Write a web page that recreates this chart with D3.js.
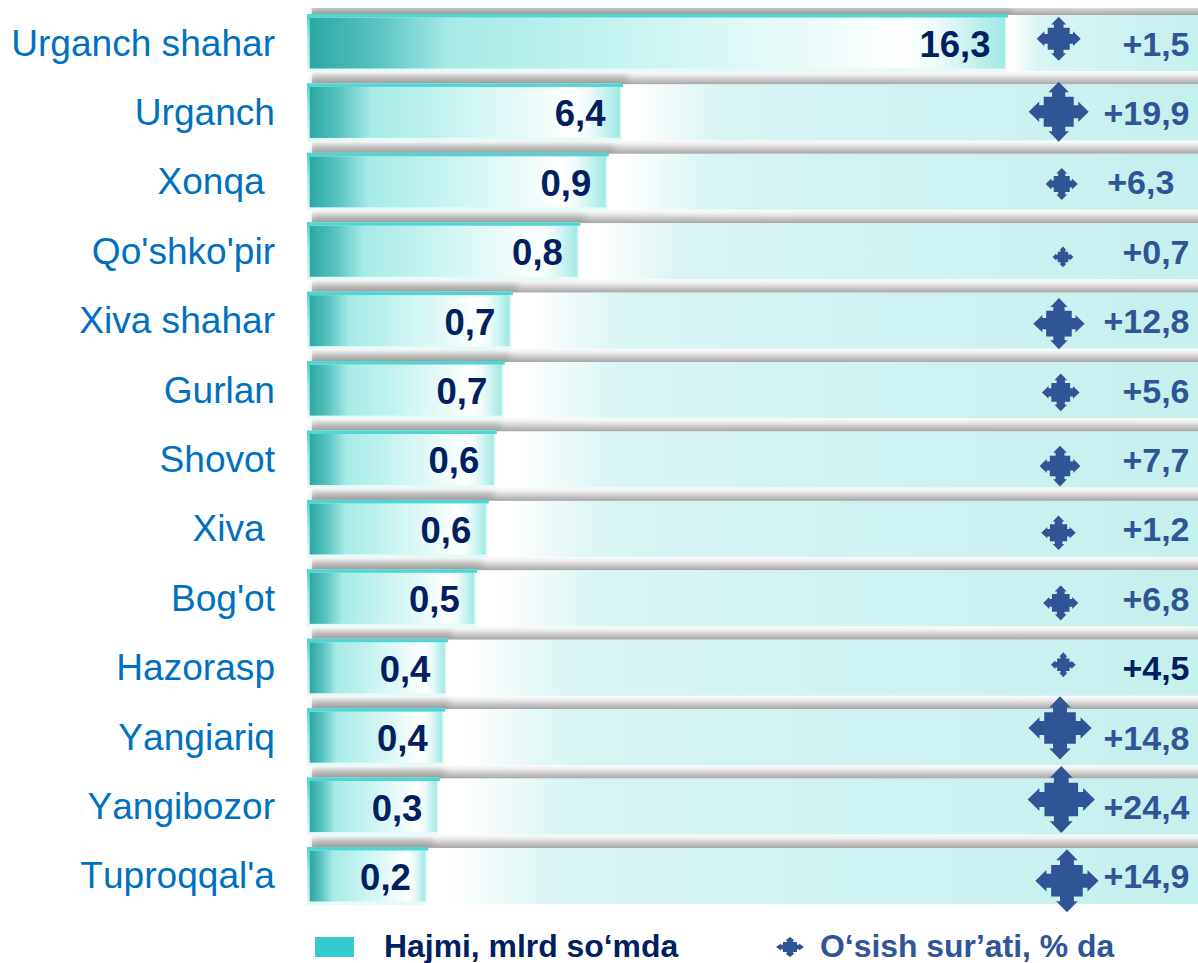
<!DOCTYPE html>
<html>
<head>
<meta charset="utf-8">
<script src="https://cdn.jsdelivr.net/npm/d3@7"></script>
<style>
  html, body { margin: 0; padding: 0; background: #fff; }
  svg { display: block; }
  text { font-family: "Liberation Sans", Arial, sans-serif; white-space: pre; font-kerning: none; }
</style>
</head>
<body>
<svg id="chart" width="1198" height="963"></svg>
<script>
// Data
var categories = ["Urganch shahar", "Urganch", "Xonqa ", "Qo'shko'pir", "Xiva shahar", "Gurlan", "Shovot", "Xiva ", "Bog'ot", "Hazorasp", "Yangiariq", "Yangibozor", "Tuproqqal'a"];
var volumeLabels = ["16,3", "6,4", "0,9", "0,8", "0,7", "0,7", "0,6", "0,6", "0,5", "0,4", "0,4", "0,3", "0,2"];
var growthLabels = ["+1,5", "+19,9", "+6,3\u00A0\u2006", "+0,7", "+12,8", "+5,6", "+7,7", "+1,2", "+6,8", "+4,5", "+14,8", "+24,4", "+14,9"];
// bars in the picture are not proportional to their printed labels, so lengths are kept separately (% of track)
var barLengths = [78.4, 35.1, 33.5, 30.3, 22.7, 21.8, 20.9, 20.0, 18.7, 15.4, 15.1, 14.5, 13.2];
// the arrow markers: where they sit (% of track, row number) and how big they are
var markerTrack = [84.33, 84.33, 84.67, 84.81, 84.36, 84.56, 84.48, 84.31, 84.56, 84.85, 84.48, 84.62, 85.26];
var markerRow = [-0.06, 0.99, 2.03, 3.08, 4.04, 5.03, 6.09, 7.05, 8.06, 8.95, 9.86, 10.89, 12.06];
var markerSize = [55, 75, 40, 26, 64, 47, 51, 43, 44, 31, 79, 84, 79];
var legendLabels = ["Hajmi, mlrd so\u2018mda", "O\u2018sish sur\u2019ati, % da"];

var svg = d3.select("#chart");
var width = 1198;

var navy = "#002060";
var blue = "#2F5597";
var catBlue = "#0070C0";
var teal = "#33CCCC";

var x = d3.scaleLinear().domain([0, 100]).range([309, width]);
var y = d3.scaleBand().domain(categories).range([15, 904]).paddingInner(0.193).paddingOuter(0);
var rowY = d3.scaleLinear().domain([0, 12]).range([43, 876.6]);
var sizeScale = d3.scaleLinear().domain([0, 100]).range([0, 40]);

// Gradients
var defs = svg.append("defs");

function addGradient(id, stops, vertical) {
  var g = defs.append("linearGradient").attr("id", id)
    .attr("x1", 0).attr("y1", 0)
    .attr("x2", vertical ? 0 : 1).attr("y2", vertical ? 1 : 0);
  stops.forEach(function(s) {
    g.append("stop").attr("offset", s[0]).attr("stop-color", s[1])
      .attr("stop-opacity", s[2] === undefined ? 1 : s[2]);
  });
}

addGradient("barFill", [[0, "#2aa7a3"], [0.1, "#5cc5c1"], [0.2, "#a6ebe6"], [0.35, "#b8f0ec"], [0.55, "#d4f6f4"], [0.85, "#ffffff"], [0.9, "#eefbfa"], [1, "#a0e8e4"]]);
addGradient("trackFill", [[0, "#ffffff"], [0.03, "#ffffff"], [0.17, "#d8f4f3"], [0.6, "#cdf2f1"], [1, "#c4f0ee"]]);
addGradient("shadowFill", [[0, "#ffffff"], [0.3, "#eeeeee"], [1, "#a6a6a6"]], true);
addGradient("barShadowFill", [[0, "#888888", 0], [0.5, "#888888", 0.28], [1, "#888888", 0.42]], true);
addGradient("leftEdge", [[0, "#4dd6d2"], [0.4, "#a0ebe7"], [1, "#e8faf8"]], true);

defs.append("filter").attr("id", "soft").attr("x", "-5%").attr("y", "-50%").attr("width", "110%").attr("height", "200%")
  .append("feGaussianBlur").attr("stdDeviation", "3 0.5");

defs.append("clipPath").attr("id", "plotClip")
  .append("rect").attr("x", 0).attr("y", 8).attr("width", width).attr("height", 955);

var rows = svg.append("g").attr("clip-path", "url(#plotClip)");

// Grey strip above every row
rows.selectAll(".shadow")
  .data(categories)
  .enter()
  .append("rect")
  .attr("class", "shadow")
  .attr("x", 312)
  .attr("y", function(d) { return y(d) - 14; })
  .attr("width", width - 312)
  .attr("height", 14)
  .attr("fill", "url(#shadowFill)");

// Track behind each bar
rows.selectAll(".track")
  .data(categories)
  .enter()
  .append("rect")
  .attr("class", "track")
  .attr("x", function(d, i) { return x(barLengths[i]) + 1; })
  .attr("y", function(d) { return y(d); })
  .attr("width", function(d, i) { return width - x(barLengths[i]) - 1; })
  .attr("height", y.bandwidth())
  .attr("fill", "url(#trackFill)");

// Darker soft shadow over the bar length
rows.selectAll(".barShadow")
  .data(categories)
  .enter()
  .append("rect")
  .attr("class", "barShadow")
  .attr("x", 312)
  .attr("y", function(d) { return y(d) - 13; })
  .attr("width", function(d, i) { return x(barLengths[i]) - 305; })
  .attr("height", 12)
  .attr("fill", "url(#barShadowFill)")
  .attr("filter", "url(#soft)");

// Pale halo
svg.selectAll(".halo")
  .data(categories)
  .enter()
  .append("rect")
  .attr("class", "halo")
  .attr("x", 307)
  .attr("y", function(d) { return y(d) - 1; })
  .attr("width", function(d, i) { return x(barLengths[i]) - 306; })
  .attr("height", y.bandwidth() + 2)
  .attr("fill", "#e6faf8");

svg.selectAll(".leftEdge")
  .data(categories)
  .enter()
  .append("rect")
  .attr("class", "leftEdge")
  .attr("x", 307)
  .attr("y", function(d) { return y(d) - 1; })
  .attr("width", 3)
  .attr("height", y.bandwidth() + 2)
  .attr("fill", "url(#leftEdge)");

// Bars
svg.selectAll(".bar")
  .data(categories)
  .enter()
  .append("rect")
  .attr("class", "bar")
  .attr("x", x(0) + 0.7)
  .attr("y", function(d) { return y(d) + 2.5; })
  .attr("width", function(d, i) { return x(barLengths[i]) - x(0) - 1.7; })
  .attr("height", y.bandwidth() - 5)
  .attr("fill", "url(#barFill)");

svg.selectAll(".barTop")
  .data(categories)
  .enter()
  .append("rect")
  .attr("class", "barTop")
  .attr("x", 307)
  .attr("y", function(d) { return y(d) - 1; })
  .attr("width", function(d, i) { return x(barLengths[i]) - 305; })
  .attr("height", 3.5)
  .attr("fill", "#4fd6d2");

// Value labels inside bars
svg.selectAll(".volumeLabel")
  .data(volumeLabels)
  .enter()
  .append("text")
  .attr("class", "volumeLabel")
  .attr("x", function(d, i) { return x(barLengths[i]) - 15.5; })
  .attr("y", function(d, i) { return y(categories[i]) + 42; })
  .attr("text-anchor", "end")
  .attr("font-size", 36.5)
  .attr("font-weight", "bold")
  .attr("fill", navy)
  .text(function(d) { return d; });

// Category names
svg.selectAll(".category")
  .data(categories)
  .enter()
  .append("text")
  .attr("class", "category")
  .attr("x", 275)
  .attr("y", function(d) { return y(d) + 40.5; })
  .attr("text-anchor", "end")
  .attr("font-size", 37.1)
  .attr("fill", catBlue)
  .text(function(d) { return d; });

// Four way arrow marker, unit size
var arrowPoints = [
  [1, 0], [0.65, 0.34], [0.65, 0.22], [0.5, 0.22], [0.5, 0.5], [0.22, 0.5], [0.22, 0.65], [0.34, 0.65],
  [0, 1], [-0.34, 0.65], [-0.22, 0.65], [-0.22, 0.5], [-0.5, 0.5], [-0.5, 0.22], [-0.65, 0.22], [-0.65, 0.34],
  [-1, 0], [-0.65, -0.34], [-0.65, -0.22], [-0.5, -0.22], [-0.5, -0.5], [-0.22, -0.5], [-0.22, -0.65], [-0.34, -0.65],
  [0, -1], [0.34, -0.65], [0.22, -0.65], [0.22, -0.5], [0.5, -0.5], [0.5, -0.22], [0.65, -0.22], [0.65, -0.34]
];
var arrowPath = d3.line().curve(d3.curveLinearClosed)(arrowPoints);

svg.selectAll(".marker")
  .data(markerSize)
  .enter()
  .append("path")
  .attr("class", "marker")
  .attr("d", arrowPath)
  .attr("transform", function(d, i) {
    var r = sizeScale(d);
    return "translate(" + x(markerTrack[i]) + "," + rowY(markerRow[i]) + ") scale(" + r + ")";
  })
  .attr("fill", blue);

// Growth labels on the right
svg.selectAll(".growthLabel")
  .data(growthLabels)
  .enter()
  .append("text")
  .attr("class", "growthLabel")
  .attr("x", 1189.5)
  .attr("y", function(d, i) { return y(categories[i]) + 40.5; })
  .attr("text-anchor", "end")
  .attr("font-size", 34)
  .attr("font-weight", "bold")
  .attr("fill", function(d) { return d === "+4,5" ? navy : blue; })
  .text(function(d) { return d; });

// Legend
svg.append("rect")
  .attr("x", 315).attr("y", 937)
  .attr("width", 39).attr("height", 20)
  .attr("fill", teal);

svg.append("text")
  .attr("x", 384).attr("y", 957)
  .attr("font-size", 31.9)
  .attr("font-weight", "bold")
  .attr("fill", navy)
  .text(legendLabels[0]);

svg.append("path")
  .attr("d", arrowPath)
  .attr("transform", "translate(790,947) scale(14,10)")
  .attr("fill", blue);

svg.append("text")
  .attr("x", 820).attr("y", 957)
  .attr("font-size", 31.9)
  .attr("font-weight", "bold")
  .attr("fill", blue)
  .text(legendLabels[1]);
</script>
</body>
</html>
